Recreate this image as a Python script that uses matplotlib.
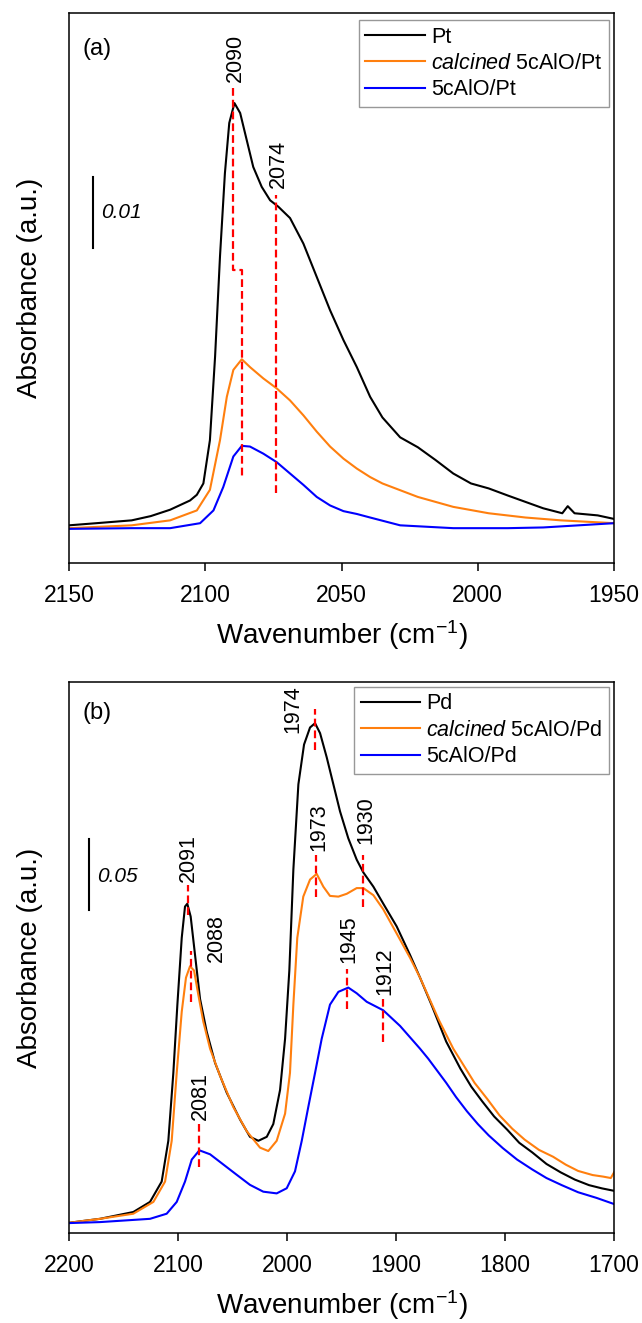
import matplotlib
matplotlib.use('Agg')
from matplotlib import pyplot as plt

# ---- panel (a): Pt samples ----
pt_wn = [2150, 2140, 2127, 2120, 2112.9, 2105.6, 2103.1, 2100.7, 2098.3, 2096.4, 2094.6, 2092.8,
         2091.2, 2089.3, 2087.2, 2084.8, 2082.4, 2079.3, 2076.2, 2073.2, 2068.9, 2064, 2059.1,
         2054.2, 2049.3, 2044.4, 2039.5, 2035, 2028.5, 2022, 2015.5, 2009, 2002.5, 1996, 1989,
         1982.5, 1976, 1969, 1967, 1964.5, 1956, 1950]
pt_abs = [0.0004, 0.0007, 0.0011, 0.0017, 0.0026, 0.0039, 0.0047, 0.0063, 0.0124, 0.0242,
          0.0383, 0.0500, 0.0571, 0.0599, 0.0585, 0.0547, 0.0509, 0.0481, 0.0462, 0.0453,
          0.0437, 0.0401, 0.0354, 0.0307, 0.0265, 0.0227, 0.0185, 0.0156, 0.0128, 0.0114,
          0.0096, 0.0077, 0.0063, 0.0056, 0.0046, 0.0037, 0.0028, 0.0021, 0.0031, 0.0021,
          0.0018, 0.0013]

cal_pt_wn = [2150, 2127, 2112.9, 2103.1, 2098.3, 2094.6, 2092.1, 2089.7, 2086.6, 2083.6, 2078.7,
             2073.8, 2068.9, 2064, 2059.1, 2054.2, 2049.3, 2044.4, 2039.5, 2035, 2022, 2009,
             1996, 1982.5, 1969.5, 1950]
cal_pt_abs = [0.0, 0.0004, 0.0011, 0.0025, 0.0054, 0.0124, 0.0185, 0.0223, 0.0238, 0.0227,
              0.0211, 0.0197, 0.0180, 0.0159, 0.0136, 0.0115, 0.0098, 0.0084, 0.0072, 0.0063,
              0.0044, 0.0030, 0.0021, 0.0015, 0.0011, 0.0007]

alo_pt_wn = [2150, 2127, 2112.9, 2101.9, 2097, 2093.4, 2089.7, 2086.6, 2083.6, 2078.7, 2073.8,
             2068.9, 2064, 2059.1, 2054.2, 2049.3, 2044.4, 2039.5, 2028.5, 2009, 1989, 1976,
             1963, 1950]
alo_pt_abs = [-0.0001, 0.0, 0.0, 0.0007, 0.0025, 0.0058, 0.0101, 0.0116, 0.0115, 0.0105,
              0.0093, 0.0077, 0.0061, 0.0044, 0.0032, 0.0024, 0.0020, 0.0015, 0.0004, 0.0,
              0.0, 0.0001, 0.0004, 0.0007]

# peak marks (a): 2090 line steps over to the calcined/5cAlO maximum
step_wn = [2090, 2090, 2086.5, 2086.5]
step_abs = [0.0620, 0.0364, 0.0364, 0.0070]
mark_a_wn = [2074]
mark_a_top = [0.0470]
mark_a_bot = [0.0049]
label_a = ['2090', '2074']
label_a_x = [2089, 2073.2]
label_a_y = [0.0629, 0.0479]

# ---- panel (b): Pd samples ----
pd_wn = [2200, 2185, 2171.6, 2141, 2125.7, 2115, 2108.9, 2104.3, 2100.6, 2096.6, 2093.6, 2091.5,
         2088.4, 2084.4, 2079.8, 2073.7, 2066, 2055.3, 2043, 2034, 2026.3, 2018.6, 2012.6,
         2006.4, 2001.8, 1997.9, 1994.2, 1989.6, 1984.4, 1978.9, 1974.3, 1969.7, 1963.6,
         1957.5, 1951.4, 1943.8, 1936.1, 1930, 1920.8, 1911.7, 1899.4, 1887.2, 1878, 1867,
         1854, 1841, 1831, 1821, 1810, 1798, 1787, 1775, 1762, 1749, 1736, 1723, 1711, 1700]
pd_abs = [-0.0005, 0.001, 0.0023, 0.0071, 0.0142, 0.0285, 0.0572, 0.105, 0.153, 0.200, 0.222,
          0.224, 0.215, 0.188, 0.157, 0.134, 0.112, 0.091, 0.072, 0.060, 0.0572, 0.060, 0.069,
          0.093, 0.129, 0.177, 0.248, 0.308, 0.336, 0.348, 0.351, 0.344, 0.327, 0.308, 0.289,
          0.270, 0.255, 0.246, 0.236, 0.224, 0.208, 0.188, 0.172, 0.152, 0.127, 0.108, 0.0953,
          0.085, 0.0743, 0.065, 0.0558, 0.049, 0.0409, 0.035, 0.0299, 0.026, 0.0237, 0.022]

cal_pd_wn = [2200, 2185, 2171.6, 2141, 2122.6, 2111.9, 2105.8, 2101.2, 2096.6, 2092.7, 2089,
             2085.3, 2081.4, 2076.8, 2070.6, 2061.5, 2049.3, 2037, 2024.8, 2017.2, 2009.5,
             2001.8, 1997.3, 1994.2, 1990.6, 1985.1, 1978.9, 1972.8, 1966.7, 1960.6, 1952.9,
             1945.2, 1936.1, 1930, 1920.8, 1911.7, 1899.4, 1887.2, 1878, 1860.6, 1847.5, 1828,
             1816.4, 1805, 1793.4, 1782, 1768.9, 1756, 1744.3, 1733, 1719.7, 1710, 1703, 1700]
cal_pd_abs = [-0.0005, 0.001, 0.0023, 0.0059, 0.0142, 0.0285, 0.0572, 0.105, 0.148, 0.172,
              0.180, 0.177, 0.160, 0.141, 0.122, 0.103, 0.081, 0.064, 0.0524, 0.050, 0.0572,
              0.0763, 0.105, 0.153, 0.200, 0.229, 0.241, 0.245, 0.236, 0.2295, 0.229, 0.231,
              0.235, 0.235, 0.230, 0.220, 0.203, 0.186, 0.172, 0.142, 0.122, 0.098, 0.0867,
              0.075, 0.0657, 0.058, 0.0508, 0.046, 0.0404, 0.036, 0.0331, 0.032, 0.031, 0.035]

alo_pd_wn = [2200, 2171.6, 2125.7, 2110.4, 2101.2, 2093.6, 2087.4, 2080.4, 2070.6, 2058.4,
             2046.2, 2034, 2021.8, 2009.5, 2000.3, 1992.7, 1986.5, 1980.5, 1974.3, 1968.2,
             1960.6, 1952.9, 1943.8, 1936.1, 1926.9, 1911.7, 1896.3, 1878, 1870.5, 1854, 1845,
             1835, 1825, 1815, 1802, 1789, 1775, 1762, 1748, 1733, 1716, 1700]
alo_pd_abs = [-0.0007, 0.0, 0.0023, 0.0059, 0.0142, 0.0285, 0.044, 0.0505, 0.0477, 0.0405,
              0.0333, 0.0262, 0.0214, 0.0202, 0.0238, 0.0357, 0.0572, 0.081, 0.105, 0.129,
              0.153, 0.162, 0.165, 0.161, 0.155, 0.149, 0.138, 0.122, 0.115, 0.098, 0.088,
              0.078, 0.069, 0.061, 0.052, 0.044, 0.037, 0.031, 0.026, 0.021, 0.017, 0.0127]

mark_b_wn = [2091, 2088, 2081, 1974, 1973, 1930, 1945, 1912]
mark_b_top = [0.237, 0.191, 0.069, 0.361, 0.258, 0.258, 0.178, 0.157]
mark_b_bot = [0.216, 0.155, 0.039, 0.332, 0.229, 0.222, 0.150, 0.127]
label_b_x = [2090.2, 2065, 2079.7, 1995, 1970.5, 1928, 1943.3, 1910.5]
label_b_y = [0.239, 0.183, 0.072, 0.344, 0.261, 0.266, 0.182, 0.160]

plt.rcParams['font.family'] = ['Liberation Sans', 'DejaVu Sans']
plt.rcParams['mathtext.fontset'] = 'custom'
plt.rcParams['mathtext.rm'] = 'Liberation Sans'
plt.rcParams['mathtext.it'] = 'Liberation Sans:italic'
plt.rcParams['axes.linewidth'] = 1.1

RED = '#ff0000'
ORANGE = '#ff7f0e'
BLUE = '#0000ff'
DASH = (0, (3.5, 1.8))

fig = plt.figure(figsize=(6.42, 13.23), dpi=100)
ax_a = fig.add_axes([0.1075, 0.5745, 0.849, 0.4157])
ax_b = fig.add_axes([0.1075, 0.068, 0.849, 0.4165])


def style(ax, xlim, ylim, xticks):
	ax.set_xlim(xlim)
	ax.set_ylim(ylim)
	ax.set_xticks(xticks)
	ax.set_yticks([])
	ax.tick_params(axis='x', direction='out', length=6, width=1.1, labelsize=16.5, pad=9)
	ax.set_xlabel('Wavenumber (cm$^{-1}$)', fontsize=20, labelpad=8)
	ax.set_ylabel('Absorbance (a.u.)', fontsize=20)
	ax.yaxis.set_label_coords(-0.048, 0.5)


def add_legend(ax, anchor):
	leg = ax.legend(loc='upper right', bbox_to_anchor=anchor, fontsize=15.5,
	                fancybox=False, edgecolor='#7f7f7f', handlelength=2.75, handletextpad=0.3,
	                labelspacing=0.25, borderpad=0.3, borderaxespad=0)
	leg.get_frame().set_linewidth(1.0)


# panel (a)
ax_a.plot(pt_wn, pt_abs, color='k', lw=1.5, label='Pt')
ax_a.plot(cal_pt_wn, cal_pt_abs, color=ORANGE, lw=1.5, label=r'$\it{calcined}$ 5cAlO/Pt')
ax_a.plot(alo_pt_wn, alo_pt_abs, color=BLUE, lw=1.5, label='5cAlO/Pt')
ax_a.plot(step_wn, step_abs, color=RED, lw=1.6, ls=DASH)
for w, t, b in zip(mark_a_wn, mark_a_top, mark_a_bot):
	ax_a.plot([w, w], [b, t], color=RED, lw=1.6, ls=DASH)
for s, x, y in zip(label_a, label_a_x, label_a_y):
	ax_a.text(x, y, s, rotation=90, ha='center', va='bottom', fontsize=15.5)
style(ax_a, (2150, 1950), (-0.0049, 0.0726), [2150, 2100, 2050, 2000, 1950])
ax_a.text(0.0256, 0.935, '(a)', transform=ax_a.transAxes, fontsize=17, va='center')
ax_a.plot([2141.1, 2141.1], [0.0395, 0.0495], color='k', lw=1.5)
ax_a.text(2138.3, 0.0445, '0.01', style='italic', fontsize=15, va='center', ha='left')
add_legend(ax_a, (0.991, 0.987))

# panel (b)
ax_b.plot(pd_wn, pd_abs, color='k', lw=1.5, label='Pd')
ax_b.plot(cal_pd_wn, cal_pd_abs, color=ORANGE, lw=1.5, label=r'$\it{calcined}$ 5cAlO/Pd')
ax_b.plot(alo_pd_wn, alo_pd_abs, color=BLUE, lw=1.5, label='5cAlO/Pd')
for w, t, b in zip(mark_b_wn, mark_b_top, mark_b_bot):
	ax_b.plot([w, w], [b, t], color=RED, lw=1.6, ls=DASH)
for w, x, y in zip(mark_b_wn, label_b_x, label_b_y):
	ax_b.text(x, y, str(w), rotation=90, ha='center', va='bottom', fontsize=15.5)
style(ax_b, (2200, 1700), (-0.0077, 0.380), [2200, 2100, 2000, 1900, 1800, 1700])
ax_b.text(0.024, 0.944, '(b)', transform=ax_b.transAxes, fontsize=17, va='center')
ax_b.plot([2181.6, 2181.6], [0.2197, 0.2697], color='k', lw=1.5)
ax_b.text(2174, 0.243, '0.05', style='italic', fontsize=15, va='center', ha='left')
add_legend(ax_b, (0.991, 0.991))

fig.savefig('out.png', dpi=100)
